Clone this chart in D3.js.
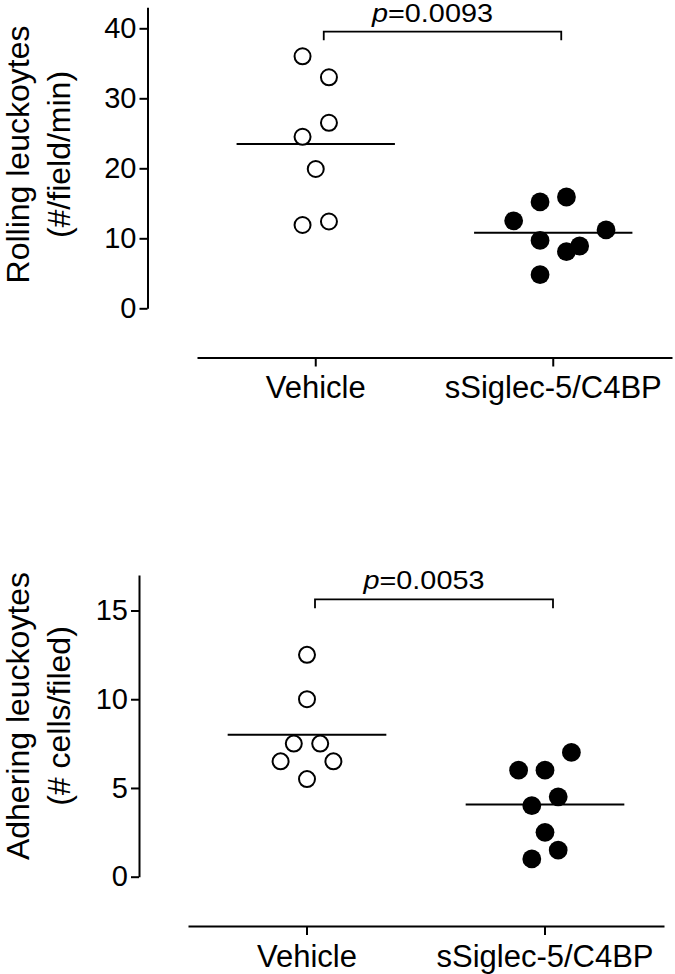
<!DOCTYPE html>
<html>
<head>
<meta charset="utf-8">
<script src="https://cdn.jsdelivr.net/npm/d3@7"></script>
<style>
  html, body { margin: 0; padding: 0; background: #fff; }
  svg { display: block; }
  text { font-family: "Liberation Sans", Arial, Helvetica, sans-serif; fill: #000; }
</style>
</head>
<body>
<svg id="chart" width="675" height="974"></svg>
<script>
// ---------- data ----------
const categories = ["Vehicle", "sSiglec-5/C4BP"];

// Rolling leukocytes (#/field/min)
const rollingVehicle     = [36.0, 33.0, 26.5, 24.5, 19.9, 11.9, 12.4];
const rollingVehicleSlot = [-1, 1, 1, -1, 0, -1, 1];
const rollingSiglec      = [15.2, 15.9, 12.5, 11.2, 9.7, 8.9, 8.1, 4.8];
const rollingSiglecSlot  = [-1, 1, -3, 4, -1, 2, 1, -1];
const rollingTicks = [0, 10, 20, 30, 40];
const rollingP = "0.0093";

// Adhering leukocytes (# cells/field)
const adherVehicle     = [12.5, 10.0, 7.5, 7.5, 6.5, 6.5, 5.5];
const adherVehicleSlot = [0, 0, -1, 1, -2, 2, 0];
const adherSiglec      = [7.0, 6.0, 6.0, 4.5, 4.0, 2.5, 1.5, 1.0];
const adherSiglecSlot  = [2, -2, 0, 1, -1, 0, 1, -1];
const adherTicks = [0, 5, 10, 15];
const adherP = "0.0053";

// ---------- layout ----------
const svg = d3.select("#chart");
const FONT_TICK = 29, FONT_XLAB = 31, FONT_TITLE = 32;
const SLOT = 13.2;

const panels = [
  {
    groups: [rollingVehicle, rollingSiglec],
    slots: [rollingVehicleSlot, rollingSiglecSlot],
    ticks: rollingTicks, yMax: 43, y0: 308.3, yTop: 7.3,
    axisX: 147.5, xL: 197, xR: 672, xAxisY: 357.5,
    title: ["Rolling leuckoytes", "(#/field/min)"], titleY: 154.5,
    p: rollingP, pBaseline: 21.7, bracketY: 31.7, bracketDrop: 8.5
  },
  {
    groups: [adherVehicle, adherSiglec],
    slots: [adherVehicleSlot, adherSiglecSlot],
    ticks: adherTicks, yMax: 17, y0: 876.7, yTop: 575,
    axisX: 139, xL: 188, xR: 664, xAxisY: 926,
    title: ["Adhering leuckoytes", "(# cells/filed)"], titleY: 716,
    p: adherP, pBaseline: 589, bracketY: 599.3, bracketDrop: 9
  }
];

function drawPanel(p) {
  const g = svg.append("g");
  const y = d3.scaleLinear().domain([0, p.yMax]).range([p.y0, p.yTop]);
  const x = d3.scaleBand().domain(categories).range([p.xL, p.xR]);
  const cx = c => x(c) + x.bandwidth() / 2;

  // y axis
  const ya = d3.axisLeft(y).tickValues(p.ticks).tickSize(8).tickSizeOuter(0).tickPadding(3)
    .tickFormat(d3.format("d"));
  const yg = g.append("g").attr("transform", `translate(${p.axisX},0)`).call(ya);
  yg.select(".domain").attr("stroke", "#000").attr("stroke-width", 2);
  yg.selectAll(".tick line").attr("stroke", "#000").attr("stroke-width", 2);
  yg.selectAll(".tick text").attr("font-size", FONT_TICK)
    .style("font-family", "'Liberation Sans', Arial, sans-serif").attr("fill", "#000");

  // x axis
  const xa = d3.axisBottom(x).tickSize(9).tickSizeOuter(0);
  const xg = g.append("g").attr("transform", `translate(0,${p.xAxisY})`).call(xa);
  xg.select(".domain").attr("stroke", "#000").attr("stroke-width", 2);
  xg.selectAll(".tick line").attr("stroke", "#000").attr("stroke-width", 2);
  xg.selectAll(".tick text").attr("font-size", FONT_XLAB).attr("y", 40.5).attr("dy", 0)
    .style("font-family", "'Liberation Sans', Arial, sans-serif").attr("fill", "#000");

  // y title (two lines)
  [29, 70].forEach((bx, i) => {
    g.append("text")
      .attr("transform", `translate(${bx},${p.titleY}) rotate(-90)`)
      .attr("text-anchor", "middle")
      .attr("font-size", FONT_TITLE)
      .text(p.title[i]);
  });

  // mean lines
  const half = x.bandwidth() / 3;
  p.groups.forEach((vals, gi) => {
    const c = cx(categories[gi]);
    const m = d3.mean(vals);
    g.append("line")
      .attr("x1", c - half).attr("x2", c + half)
      .attr("y1", y(m)).attr("y2", y(m))
      .attr("stroke", "#000").attr("stroke-width", 2);
  });

  // points
  p.groups.forEach((vals, gi) => {
    const c = cx(categories[gi]);
    const filled = gi === 1;
    g.append("g").selectAll("circle").data(vals).join("circle")
      .attr("cx", (d, i) => c + p.slots[gi][i] * SLOT)
      .attr("cy", d => y(d))
      .attr("r", filled ? 9.4 : 8)
      .attr("fill", filled ? "#000" : "#fff")
      .attr("stroke", "#000")
      .attr("stroke-width", filled ? 0 : 2);
  });

  // significance bracket
  const bx1 = cx(categories[0]) + 8, bx2 = cx(categories[1]) + 8;
  g.append("path")
    .attr("d", `M${bx1},${p.bracketY + p.bracketDrop}V${p.bracketY}H${bx2}V${p.bracketY + p.bracketDrop}`)
    .attr("fill", "none").attr("stroke", "#000").attr("stroke-width", 1.8);

  const t = g.append("text")
    .attr("x", (bx1 + bx2) / 2 - 10)
    .attr("y", p.pBaseline)
    .attr("text-anchor", "middle")
    .attr("font-size", 25)
    .attr("textLength", 121)
    .attr("lengthAdjust", "spacingAndGlyphs");
  t.append("tspan").attr("font-style", "italic").text("p");
  t.append("tspan").text("=" + p.p);
}

panels.forEach(drawPanel);
</script>
</body>
</html>
